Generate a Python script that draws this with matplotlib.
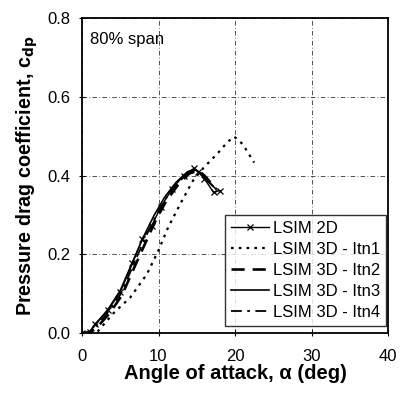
import matplotlib
matplotlib.use('Agg')
import matplotlib.pyplot as plt

plt.rcParams['font.family'] = ['Liberation Sans', 'DejaVu Sans']

# LSIM 2D
aoa_2d = [0.0, 1.0, 1.7, 3.4, 5.0, 6.6, 7.9, 9.1, 10.3, 11.8, 13.3, 14.6, 15.2, 16.0, 17.2, 18.0]
cdp_2d = [0.0, 0.003, 0.023, 0.058, 0.104, 0.177, 0.240, 0.272, 0.320, 0.367, 0.400, 0.418, 0.410, 0.392, 0.357, 0.362]

# LSIM 3D iterations
aoa_itn1 = [0.0, 1.0, 2.1, 4.1, 6.3, 8.5, 10.0, 11.3, 12.9, 14.5, 15.9, 17.8, 19.0, 19.9, 21.0, 22.5]
cdp_itn1 = [0.0, 0.0, 0.005, 0.050, 0.090, 0.150, 0.210, 0.270, 0.330, 0.387, 0.420, 0.458, 0.485, 0.499, 0.480, 0.433]

aoa_itn2 = [0.0, 1.0, 2.0, 3.6, 5.2, 6.8, 8.2, 9.6, 11.0, 12.5, 14.0, 15.2, 16.0, 17.0, 17.6]
cdp_itn2 = [0.0, 0.0, 0.015, 0.050, 0.095, 0.165, 0.225, 0.285, 0.335, 0.375, 0.405, 0.413, 0.400, 0.378, 0.365]

aoa_itn3 = [0.0, 1.0, 1.8, 3.4, 5.0, 6.6, 8.0, 9.4, 10.8, 12.3, 13.8, 14.8, 15.6, 16.6, 17.4]
cdp_itn3 = [0.0, 0.003, 0.022, 0.060, 0.108, 0.180, 0.243, 0.298, 0.345, 0.383, 0.410, 0.416, 0.405, 0.382, 0.368]

aoa_itn4 = [0.0, 1.0, 1.9, 3.5, 5.1, 6.7, 8.1, 9.5, 10.9, 12.4, 13.9, 15.0, 15.8, 16.8, 17.5]
cdp_itn4 = [0.0, 0.002, 0.018, 0.055, 0.100, 0.172, 0.235, 0.292, 0.340, 0.380, 0.407, 0.415, 0.402, 0.380, 0.366]

fig = plt.figure(figsize=(4.0, 3.95), dpi=100)
ax = fig.add_axes([0.205, 0.157, 0.765, 0.797])

ax.plot(aoa_2d, cdp_2d, color='black', lw=1.0, marker='x', ms=4, mew=0.9, label='LSIM 2D')
ax.plot(aoa_itn1, cdp_itn1, color='black', lw=1.6, ls=(0, (1.2, 2.3)), label='LSIM 3D - Itn1')
ax.plot(aoa_itn2, cdp_itn2, color='black', lw=1.9, ls=(0, (5, 3)), label='LSIM 3D - Itn2')
ax.plot(aoa_itn3, cdp_itn3, color='black', lw=1.2, ls='-', label='LSIM 3D - Itn3')
ax.plot(aoa_itn4, cdp_itn4, color='black', lw=1.3, ls=(0, (6, 3, 1.5, 3)), label='LSIM 3D - Itn4')

ax.set_xlim(0, 40)
ax.set_ylim(0, 0.8)
ax.set_xticks([0, 10, 20, 30, 40])
ax.set_yticks([0.0, 0.2, 0.4, 0.6, 0.8])
ax.set_yticklabels(['0.0', '0.2', '0.4', '0.6', '0.8'])
ax.tick_params(direction='inout', length=5, labelsize=12, width=0.8)
ax.tick_params(axis='x', pad=9)
ax.tick_params(axis='y', pad=6)
ax.grid(True, color='#222222', lw=0.55, ls=(0, (6, 3, 1, 3)))
for s in ax.spines.values():
    s.set_linewidth(1.3)

ax.set_xlabel('Angle of attack, α (deg)', fontsize=14.5, fontweight='bold', labelpad=0)
ax.set_ylabel(r'Pressure drag coefficient, c$_{\mathbf{dp}}$', fontsize=14.2, fontweight='bold', labelpad=5)
ax.text(1.0, 0.765, '80% span', fontsize=12, va='top')

leg = ax.legend(loc='lower right', bbox_to_anchor=(0.993, 0.022), borderaxespad=0,
                fontsize=12, frameon=True, fancybox=False,
                edgecolor='black', handlelength=2.3, handletextpad=0.2,
                labelspacing=0.36, borderpad=0.35)
leg.get_frame().set_linewidth(1.0)

fig.savefig('out.png', dpi=100)
